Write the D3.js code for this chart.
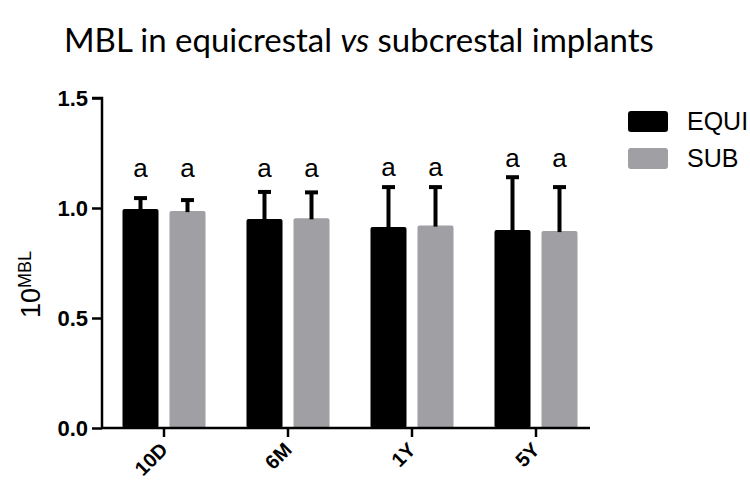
<!DOCTYPE html>
<html lang="en">
<head>
  <meta charset="UTF-8">
  <title>MBL in equicrestal vs subcrestal implants</title>
  <script src="https://d3js.org/d3.v7.min.js"></script>
  <style>
    body {
      margin: 0;
      background: #fff;
    }
    svg text {
      font-family: "Liberation Sans", Arial, sans-serif;
    }
  </style>
</head>
<body>
  <script>
    // data
    const categories = ["10D", "6M", "1Y", "5Y"];
    const series = ["EQUI", "SUB"];
    const equiMean = [0.995, 0.95, 0.914, 0.90];
    const equiSD = [0.05, 0.123, 0.181, 0.24];
    const subMean = [0.986, 0.953, 0.92, 0.895];
    const subSD = [0.05, 0.118, 0.175, 0.20];
    const letters = ["a", "a", "a", "a"];
    const letterLevel = [1.141, 1.141, 1.145, 1.186];
    const yTicks = [0, 0.5, 1.0, 1.5];

    const width = 750;
    const height = 481;
    const colors = { EQUI: "#000000", SUB: "#a0a0a4" };

    const rows = categories.map((c, i) => ({
      cat: c,
      bars: [
        { key: "EQUI", mean: equiMean[i], sd: equiSD[i] },
        { key: "SUB", mean: subMean[i], sd: subSD[i] }
      ]
    }));

    const svg = d3.select("body").append("svg")
      .attr("width", width)
      .attr("height", height);

    // scales
    const x0 = d3.scaleBand().domain(categories).range([102, 598]);
    const x1 = d3.scaleBand().domain(series)
      .range([0, x0.bandwidth()])
      .paddingInner(0.234)
      .paddingOuter(0.436);
    const y = d3.scaleLinear().domain([0, 1.5]).range([428, 98]);

    // title, sized to span the same width as the original
    const title = svg.append("text")
      .attr("x", 64)
      .attr("y", 52)
      .style("font-family", "Lato, sans-serif")
      .style("font-size", "30px")
      .attr("fill", "#000");
    title.append("tspan").text("MBL in equicrestal ");
    title.append("tspan").style("font-style", "italic").text("vs");
    title.append("tspan").text(" subcrestal implants");
    const tw = title.node().getComputedTextLength();
    title.style("font-size", (30 * 590 / tw) + "px");

    // bars
    const groups = svg.selectAll(".grp")
      .data(rows)
      .enter().append("g")
      .attr("class", "grp")
      .attr("transform", d => `translate(${x0(d.cat)},0)`);

    groups.selectAll("rect")
      .data(d => d.bars)
      .enter().append("rect")
      .attr("x", d => x1(d.key))
      .attr("y", d => y(d.mean))
      .attr("width", x1.bandwidth())
      .attr("height", d => y(0) - y(d.mean))
      .attr("rx", 2)
      .attr("fill", d => colors[d.key]);

    // error bars (upper only)
    const err = groups.selectAll(".err")
      .data(d => d.bars)
      .enter().append("g")
      .attr("class", "err")
      .attr("stroke", "#000")
      .attr("stroke-width", 4);
    err.append("line")
      .attr("x1", d => x1(d.key) + x1.bandwidth() / 2)
      .attr("x2", d => x1(d.key) + x1.bandwidth() / 2)
      .attr("y1", d => y(d.mean) + 1)
      .attr("y2", d => y(d.mean + d.sd));
    err.append("line")
      .attr("x1", d => x1(d.key) + x1.bandwidth() / 2 - 6.5)
      .attr("x2", d => x1(d.key) + x1.bandwidth() / 2 + 6.5)
      .attr("y1", d => y(d.mean + d.sd))
      .attr("y2", d => y(d.mean + d.sd));

    // significance letters
    groups.each(function (d, i) {
      d3.select(this).selectAll(".let")
        .data(d.bars)
        .enter().append("text")
        .attr("class", "let")
        .attr("x", b => x1(b.key) + x1.bandwidth() / 2)
        .attr("y", y(letterLevel[i]))
        .attr("text-anchor", "middle")
        .style("font-size", "26px")
        .text(letters[i]);
    });

    // y axis
    const yAxis = svg.append("g")
      .attr("transform", "translate(102,0)")
      .call(d3.axisLeft(y).tickValues(yTicks).tickFormat(d3.format(".1f")).tickSize(10).tickPadding(4));
    yAxis.select(".domain").attr("stroke-width", 2.5).attr("d", `M-10,${y(1.5)}H0V${y(0)}`);
    yAxis.selectAll(".tick line").attr("stroke-width", 2.5);
    yAxis.selectAll(".tick text")
      .style("font-size", "22px")
      .style("font-weight", "bold")
      .attr("dy", "0.36em")
      .attr("fill", "#000");

    // x axis
    const xAxis = svg.append("g")
      .attr("transform", `translate(0,${y(0)})`)
      .call(d3.axisBottom(x0).tickSize(9).tickPadding(2));
    xAxis.select(".domain").attr("stroke-width", 2.5).attr("d", "M102,0H590");
    xAxis.selectAll(".tick line").attr("stroke-width", 2.5);
    xAxis.selectAll(".tick text")
      .style("font-size", "20px")
      .style("font-weight", "bold")
      .attr("fill", "#000")
      .attr("text-anchor", "end")
      .attr("dy", 0)
      .attr("x", 0)
      .attr("y", 0)
      .attr("transform", "translate(5,23) rotate(-45)");

    // y label 10^MBL
    const ylab = svg.append("text")
      .attr("transform", "translate(40,318) rotate(-90)")
      .attr("text-anchor", "start")
      .attr("fill", "#000");
    ylab.append("tspan").style("font-size", "27px").text("10");
    ylab.append("tspan").style("font-size", "18px").attr("dy", "-9").text("MBL");

    // legend
    const legend = svg.append("g")
      .selectAll("g")
      .data(series)
      .enter().append("g")
      .attr("transform", (d, i) => `translate(628,${111 + i * 37})`);
    legend.append("rect")
      .attr("width", 40)
      .attr("height", 21)
      .attr("rx", 3)
      .attr("fill", d => colors[d]);
    legend.append("text")
      .attr("x", 59)
      .attr("y", 19)
      .style("font-size", "25px")
      .attr("fill", "#000")
      .text(d => d);
  </script>
</body>
</html>
